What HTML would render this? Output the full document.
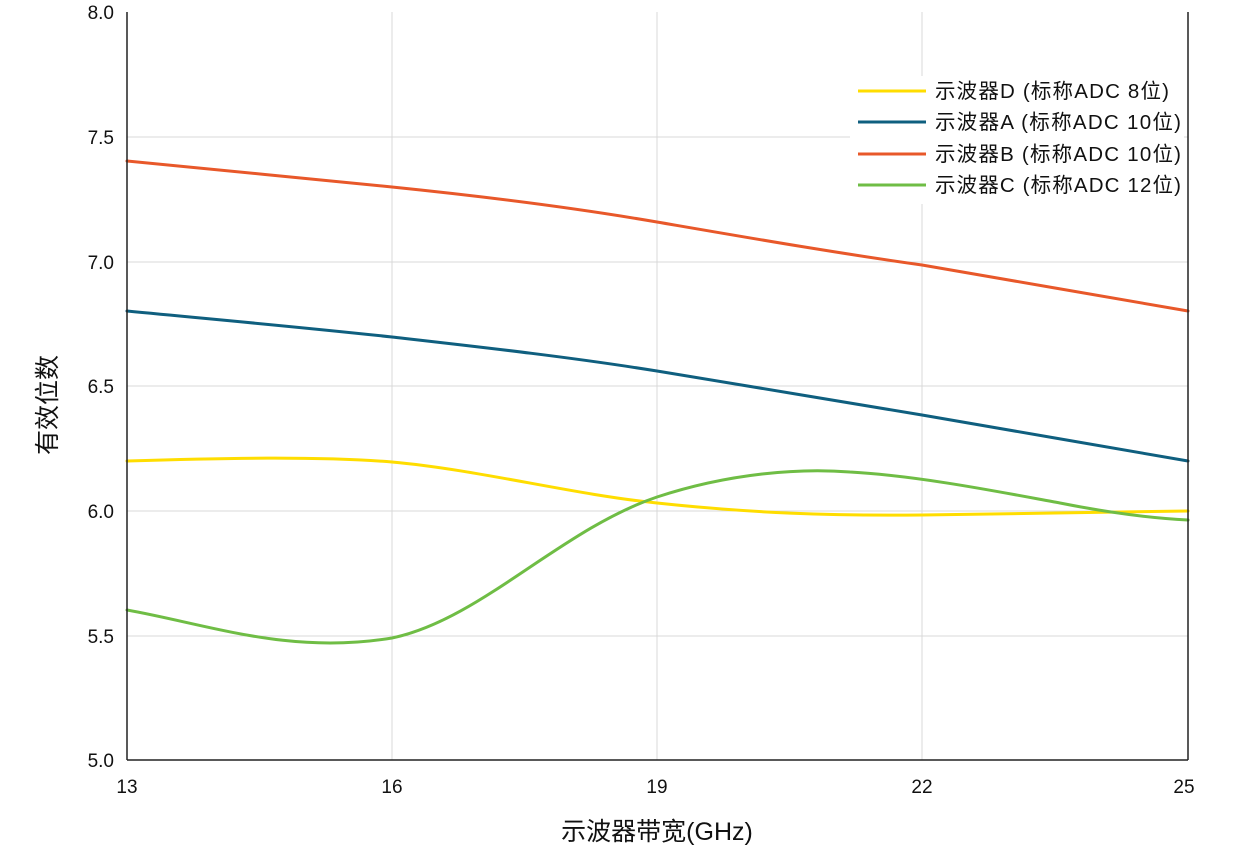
<!DOCTYPE html>
<html><head><meta charset="utf-8"><style>
html,body{margin:0;padding:0;background:#fff;}
svg{display:block;font-family:"Liberation Sans","Noto Sans CJK SC",sans-serif;}
</style></head><body>
<svg width="1235" height="858" viewBox="0 0 1235 858">
<g stroke="#d9d9d9" stroke-width="1">
<line x1="392" y1="12" x2="392" y2="760"/>
<line x1="657" y1="12" x2="657" y2="760"/>
<line x1="922" y1="12" x2="922" y2="760"/>
<line x1="127" y1="137" x2="1188" y2="137"/>
<line x1="127" y1="262" x2="1188" y2="262"/>
<line x1="127" y1="386" x2="1188" y2="386"/>
<line x1="127" y1="511" x2="1188" y2="511"/>
<line x1="127" y1="636" x2="1188" y2="636"/>
</g>
<rect x="850" y="76" width="334" height="128" fill="#fff"/>
<g fill="none" stroke-width="3" stroke-linecap="round">
<path d="M127,161 C220,170 300,178 392,187 C480,196 570,207 657,222 C750,238 830,252 922,265 C1010,280 1100,296 1188,311" stroke="#e8582a"/>
<path d="M127,311 C220,320 300,327 392,337 C480,347 570,357 657,371 C750,386 830,400 922,415 C1010,430 1100,446 1188,461" stroke="#0f5f7f"/>
<path d="M127,461 C220,458 320,456 392,462 C480,470 570,494 657,503 C750,513 830,516 922,515 C1010,514 1100,512 1188,511" stroke="#ffdd00"/>
<path d="M127,610 C210,625 290,655 392,638 C480,620 560,530 657,497 C730,473 800,468 850,472 C920,476 1000,492 1060,503 C1110,513 1150,518 1188,520" stroke="#6fbd45"/>
</g>
<line x1="127" y1="12" x2="127" y2="760" stroke="#222" stroke-width="1.5"/>
<line x1="127" y1="760" x2="1188" y2="760" stroke="#222" stroke-width="1.5"/>
<line x1="1188" y1="12" x2="1188" y2="760" stroke="#222" stroke-width="1.5"/>
<g font-size="19" fill="#111" text-anchor="end">
<text x="114" y="19">8.0</text><text x="114" y="144">7.5</text><text x="114" y="269">7.0</text>
<text x="114" y="393">6.5</text><text x="114" y="518">6.0</text><text x="114" y="643">5.5</text>
<text x="114" y="767">5.0</text>
</g>
<g font-size="19" fill="#111" text-anchor="middle">
<text x="127" y="793">13</text><text x="392" y="793">16</text><text x="657" y="793">19</text>
<text x="922" y="793">22</text><text x="1184" y="793">25</text>
</g>
<text x="657" y="840" font-size="25" text-anchor="middle" fill="#111">示波器带宽(GHz)</text>
<text transform="translate(56,405) rotate(-90)" font-size="25" text-anchor="middle" fill="#111">有效位数</text>
<g stroke-width="3">
<line x1="858" y1="91" x2="926" y2="91" stroke="#ffdd00"/>
<line x1="858" y1="122" x2="926" y2="122" stroke="#0f5f7f"/>
<line x1="858" y1="154" x2="926" y2="154" stroke="#e8582a"/>
<line x1="858" y1="185" x2="926" y2="185" stroke="#6fbd45"/>
</g>
<g font-size="20.5" fill="#111">
<text x="935" y="98" textLength="234">示波器D (标称ADC 8位)</text>
<text x="935" y="129" textLength="246">示波器A (标称ADC 10位)</text>
<text x="935" y="161" textLength="246">示波器B (标称ADC 10位)</text>
<text x="935" y="192" textLength="246">示波器C (标称ADC 12位)</text>
</g>
</svg>
</body></html>
